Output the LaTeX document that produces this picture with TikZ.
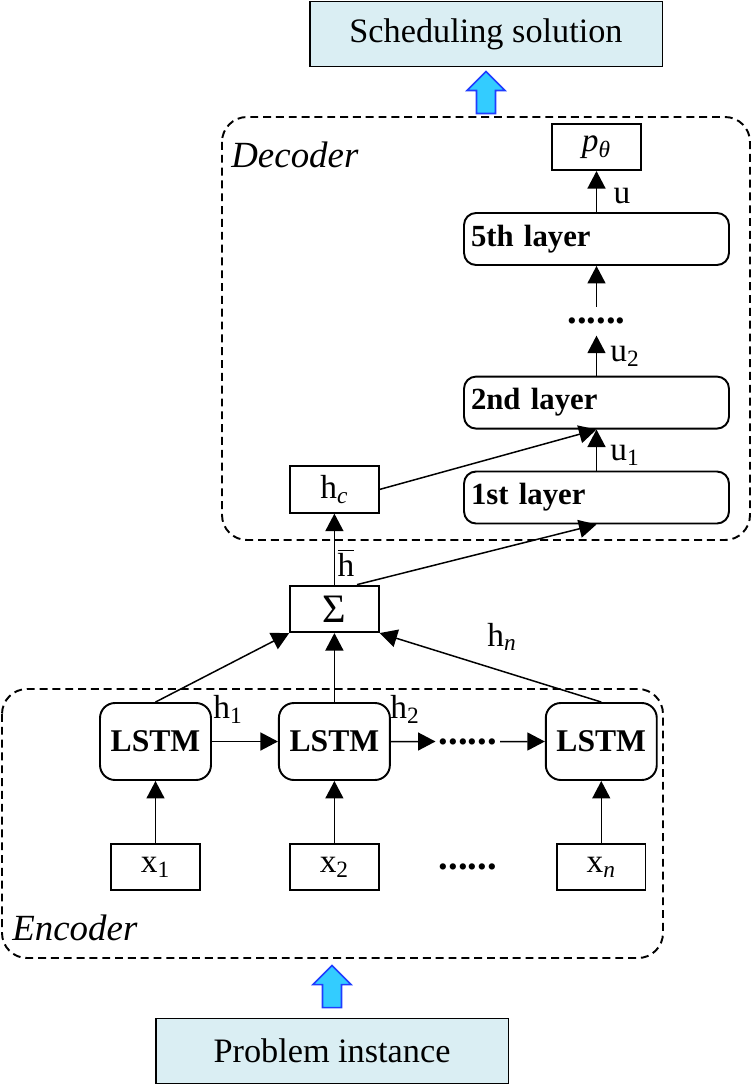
\documentclass[tikz,border=0pt]{standalone}
\usepackage{fontspec}
\setmainfont{Liberation Serif}
\usetikzlibrary{arrows.meta,positioning,calc}
\definecolor{ioBlue}{HTML}{DAEEF3}
\definecolor{fatFill}{HTML}{33CCFF}
\definecolor{fatLine}{HTML}{1F3DFF}

\begin{document}
\begin{tikzpicture}[
  x=0.02cm,y=-0.02cm,
  node distance=1.24cm and 1.32cm,
  iobox/.style={draw=black,line width=1.1pt,fill=ioBlue,minimum width=7.06cm,minimum height=1.3cm,inner sep=0pt,font=\fontsize{19.5}{22}\selectfont},
  cell/.style={draw=black,rounded corners=0.3cm,line width=1.1pt,minimum width=2.22cm,minimum height=1.54cm,inner sep=0pt,font=\fontsize{18}{20}\selectfont\bfseries},
  layerbox/.style={draw=black,rounded corners=0.24cm,line width=1.1pt,minimum height=1.04cm,text width=5.02cm,inner xsep=0.14cm,inner ysep=0pt,align=left,font=\fontsize{17.5}{20}\selectfont\bfseries},
  vec/.style={draw=black,line width=1.1pt,minimum width=1.77cm,minimum height=0.93cm,inner sep=0pt,font=\fontsize{19}{22}\selectfont},
  lbl/.style={inner sep=0pt,font=\fontsize{19}{22}\selectfont},
  tag/.style={inner sep=0pt,anchor=west,font=\fontsize{21}{24}\selectfont\itshape},
  dotrow/.style={inner sep=0pt,font=\fontsize{22}{24}\selectfont\bfseries},
  dashbox/.style={draw=black,line width=1.1pt,rounded corners=0.5cm,dash pattern=on 4.5pt off 2.8pt},
  arrow/.style={-{Triangle[length=0.35cm,width=0.36cm]},line width=0.85pt},
  fatarrow/.style={draw=fatLine,fill=fatFill,line width=0.9pt}
]
\useasboundingbox (0,0) rectangle (752,1085);

% output and input
\node[iobox] (sol) at (486,34) {Scheduling solution};
\node[iobox] (prob) at (332,1051) {Problem instance};

% decoder
\node[layerbox] (l1) at (596.5,497.5) {1st layer};
\node[layerbox,above=0.82cm of l1] (l2) {2nd layer};
\node[dotrow,minimum height=0.56cm,above=0.8cm of l2] (vdots) {......};
\node[layerbox,above=0.82cm of vdots] (l5) {5th layer};
\node[vec,above=0.82cm of l5] (ptheta) {\textit{p}\textsubscript{\textit{θ}}};

% encoder
\node[cell] (lstm1) at (155.5,741.5) {LSTM};
\node[cell,right=of lstm1] (lstm2) {LSTM};
\node[cell,right=3.08cm of lstm2] (lstmn) {LSTM};
\node[dotrow,minimum width=1.28cm] (hdots) at ($(lstm2.east)!0.5!(lstmn.west)$) {......};
\node[vec,below=of lstm1] (x1) {x\textsubscript{1}};
\node[vec,below=of lstm2] (x2) {x\textsubscript{2}};
\node[vec,below=of lstmn] (xn) {x\textsubscript{\textit{n}}};
\node[dotrow] (xdots) at ($(x2)!0.5!(xn)$) {......};
\node[vec,above=1.38cm of lstm2] (sum) {\fontsize{23}{26}\selectfont Σ};
\node[vec,above=1.42cm of sum] (hc) {h\textsubscript{\textit{c}}};

% frames
\draw[dashbox] (222,117) rectangle (750,540);
\draw[dashbox] (2,689) rectangle (663,958);
\node[tag] (dectag) at (231,155) {Decoder};
\node[tag] (enctag) at (12,928) {Encoder};

% block arrows
\coordinate (toptip) at ($(sol.south)+(0,4)$);
\coordinate (bottip) at ($(prob.north)+(0,-52)$);
\foreach \t in {toptip,bottip}
  \draw[fatarrow] (\t) -- ++(19,19) -- ++(-9.5,0) -- ++(0,23) -- ++(-19,0)
    -- ++(0,-23) -- ++(-9.5,0) -- cycle;

% connectors
\draw[arrow] (lstm1) -- (lstm2);
\draw[arrow] (lstm2) -- (hdots);
\draw[arrow] (hdots) -- (lstmn);
\foreach \i in {1,2,n}
  \draw[arrow] (x\i) -- (lstm\i);
\draw[arrow] (lstm1.north) -- (sum.south west);
\draw[arrow] (lstm2) -- (sum);
\draw[arrow] (lstmn.north) -- (sum.south east);
\draw[arrow] (sum) -- (hc);
\draw[arrow] ($(sum.north)!0.5!(sum.north east)$) -- (l1.south);
\draw[arrow] (hc.east) -- (l2.south);
\draw[arrow] (l1) -- (l2);
\draw[arrow] (l2) -- (vdots);
\draw[arrow] (vdots) -- (l5);
\draw[arrow] (l5) -- (ptheta);

% labels
\node[lbl] (h1) at (228,709) {h\textsubscript{1}};
\node[lbl] (h2) at (405,709) {h\textsubscript{2}};
\node[lbl] (hn) at (502,637) {h\textsubscript{\textit{n}}};
\node[lbl] (hbar) at (346,563) {$\overline{\mbox{h}}$};
\node[lbl] (u1) at (625,455) {u\textsubscript{1}};
\node[lbl] (u2) at (625,356) {u\textsubscript{2}};
\node[lbl] (u) at (622,196) {u};
\end{tikzpicture}
\end{document}
